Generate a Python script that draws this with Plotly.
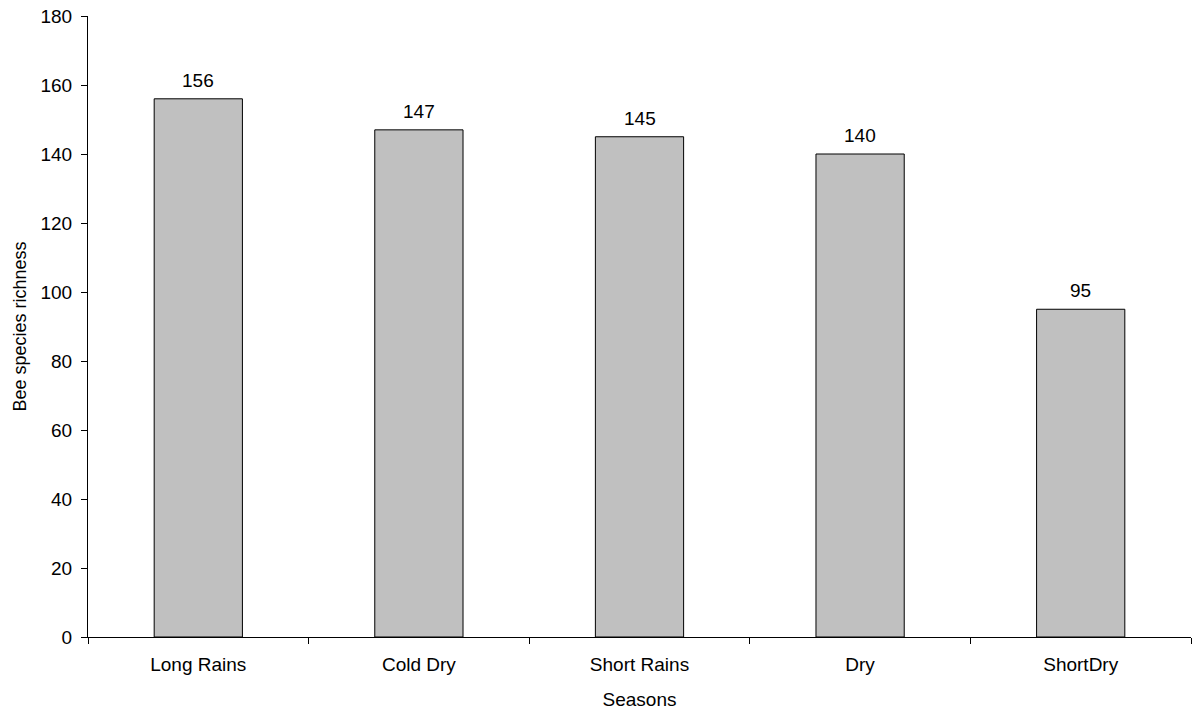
import plotly.graph_objects as go

seasons = ["Long Rains", "Cold Dry", "Short Rains", "Dry", "ShortDry"]
richness = [156, 147, 145, 140, 95]
y_ticks = [0, 20, 40, 60, 80, 100, 120, 140, 160, 180]

FONT = "Liberation Sans, Arial, sans-serif"

fig = go.Figure(
    go.Bar(
        x=seasons,
        y=richness,
        marker=dict(color="#C0C0C0", line=dict(color="black", width=1)),
        cliponaxis=False,
        width=0.4,
    )
)

# value labels above each bar
for s, v in zip(seasons, richness):
    fig.add_annotation(
        x=s, y=v, text=str(v), showarrow=False,
        yanchor="bottom", yshift=6,
        font=dict(family=FONT, size=19, color="black"),
    )

fig.update_layout(
    width=1192,
    height=713,
    margin=dict(l=88, r=1, t=16, b=76),
    paper_bgcolor="white",
    plot_bgcolor="white",
    font=dict(family=FONT, size=19, color="black"),
    showlegend=False,
    xaxis=dict(
        type="category",
        showline=True,
        linecolor="black",
        linewidth=1,
        ticks="outside",
        tickson="boundaries",
        ticklen=6,
        tickcolor="black",
        showgrid=False,
        ticklabelstandoff=10,
        title=dict(text="Seasons", font=dict(size=19), standoff=18),
        tickfont=dict(size=19),
    ),
    yaxis=dict(
        range=[0, 180],
        tickvals=y_ticks,
        showline=True,
        linecolor="black",
        linewidth=1,
        ticks="outside",
        ticklen=6,
        tickcolor="black",
        showgrid=False,
        zeroline=False,
        ticklabelstandoff=5,
        title=dict(text="Bee species richness", font=dict(size=18), standoff=9),
        tickfont=dict(size=19),
    ),
)

fig.write_html("out.html")
